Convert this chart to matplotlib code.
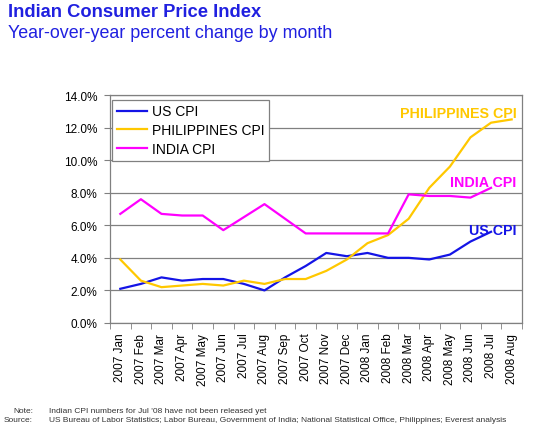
import matplotlib
matplotlib.use("Agg")
import matplotlib.pyplot as plt
from matplotlib.ticker import FixedLocator, PercentFormatter

plt.rcParams["font.family"] = ["Liberation Sans", "DejaVu Sans"]

months = ["2007 Jan", "2007 Feb", "2007 Mar", "2007 Apr", "2007 May", "2007 Jun",
          "2007 Jul", "2007 Aug", "2007 Sep", "2007 Oct", "2007 Nov", "2007 Dec",
          "2008 Jan", "2008 Feb", "2008 Mar", "2008 Apr", "2008 May", "2008 Jun",
          "2008 Jul", "2008 Aug"]

us_cpi = [2.1, 2.4, 2.8, 2.6, 2.7, 2.7, 2.4, 2.0, 2.8, 3.5, 4.3, 4.1,
          4.3, 4.0, 4.0, 3.9, 4.2, 5.0, 5.6]
philippines_cpi = [3.9, 2.6, 2.2, 2.3, 2.4, 2.3, 2.6, 2.4, 2.7, 2.7, 3.2, 3.9,
                   4.9, 5.4, 6.4, 8.3, 9.6, 11.4, 12.3, 12.5]
india_cpi = [6.7, 7.6, 6.7, 6.6, 6.6, 5.7, 6.5, 7.3, 6.4, 5.5, 5.5, 5.5,
             5.5, 5.5, 7.9, 7.8, 7.8, 7.7, 8.3]

BLUE = "#1414E6"
GOLD = "#FFC800"
MAGENTA = "#FF00FF"
GREY = "#808080"


def main():
    fig = plt.figure(figsize=(5.5, 4.35), dpi=100)
    ax = fig.add_axes([0.2, 0.2552, 0.749, 0.5241])

    ax.plot(range(len(us_cpi)), us_cpi, color=BLUE, lw=1.6, label="US CPI")
    ax.plot(range(len(philippines_cpi)), philippines_cpi, color=GOLD, lw=1.6,
            label="PHILIPPINES CPI")
    ax.plot(range(len(india_cpi)), india_cpi, color=MAGENTA, lw=1.6, label="INDIA CPI")

    ax.set_xlim(-0.5, len(months) - 0.5)
    ax.set_ylim(0, 14)
    ax.set_yticks(range(0, 15, 2))
    ax.yaxis.set_major_formatter(PercentFormatter(decimals=1))
    ax.grid(axis="y", color=GREY, lw=0.9)
    ax.set_axisbelow(True)

    ax.set_xticks(range(len(months)))
    ax.set_xticklabels(months, rotation=90, fontsize=8.5)
    ax.tick_params(axis="x", which="major", length=0, pad=7)
    ax.xaxis.set_minor_locator(FixedLocator([i - 0.5 for i in range(len(months) + 1)]))
    ax.tick_params(axis="x", which="minor", length=4, color=GREY, direction="out")
    ax.tick_params(axis="y", labelsize=8.5, length=4, color=GREY, pad=5)

    for s in ax.spines.values():
        s.set_color(GREY)
        s.set_linewidth(0.9)

    leg = ax.legend(loc="upper left", bbox_to_anchor=(0.005, 0.98), fontsize=10,
                    fancybox=False, framealpha=1, edgecolor=GREY, handlelength=2.2,
                    handletextpad=0.3, borderpad=0.35, labelspacing=0.35,
                    borderaxespad=0)
    leg.get_frame().set_linewidth(0.9)

    ax.text(19.24, 12.65, "PHILIPPINES CPI", color=GOLD, fontsize=10.3,
            fontweight="bold", ha="right", va="baseline")
    ax.text(19.24, 8.41, "INDIA CPI", color=MAGENTA, fontsize=10.3,
            fontweight="bold", ha="right", va="baseline")
    ax.text(19.24, 5.46, "US CPI", color=BLUE, fontsize=10.3,
            fontweight="bold", ha="right", va="baseline")

    fig.text(8 / 550, 1 - 17 / 435, "Indian Consumer Price Index", color="#2020E0",
             fontsize=13.2, fontweight="bold", ha="left", va="baseline")
    fig.text(8 / 550, 1 - 38 / 435, "Year-over-year percent change by month",
             color="#2020E0", fontsize=12.9, ha="left", va="baseline")

    fig.text(33 / 550, 1 - 413 / 435, "Note:", fontsize=6, color="#333333",
             ha="right", va="baseline")
    fig.text(49 / 550, 1 - 413 / 435,
             "Indian CPI numbers for Jul '08 have not been released yet",
             fontsize=6, color="#333333", ha="left", va="baseline")
    fig.text(33 / 550, 1 - 422 / 435, "Source:", fontsize=6, color="#333333",
             ha="right", va="baseline")
    fig.text(49 / 550, 1 - 422 / 435,
             "US Bureau of Labor Statistics; Labor Bureau, Government of India; "
             "National Statistical Office, Philippines; Everest analysis",
             fontsize=6, color="#333333", ha="left", va="baseline")

    fig.savefig("out.png", dpi=100)


if __name__ == "__main__":
    main()
